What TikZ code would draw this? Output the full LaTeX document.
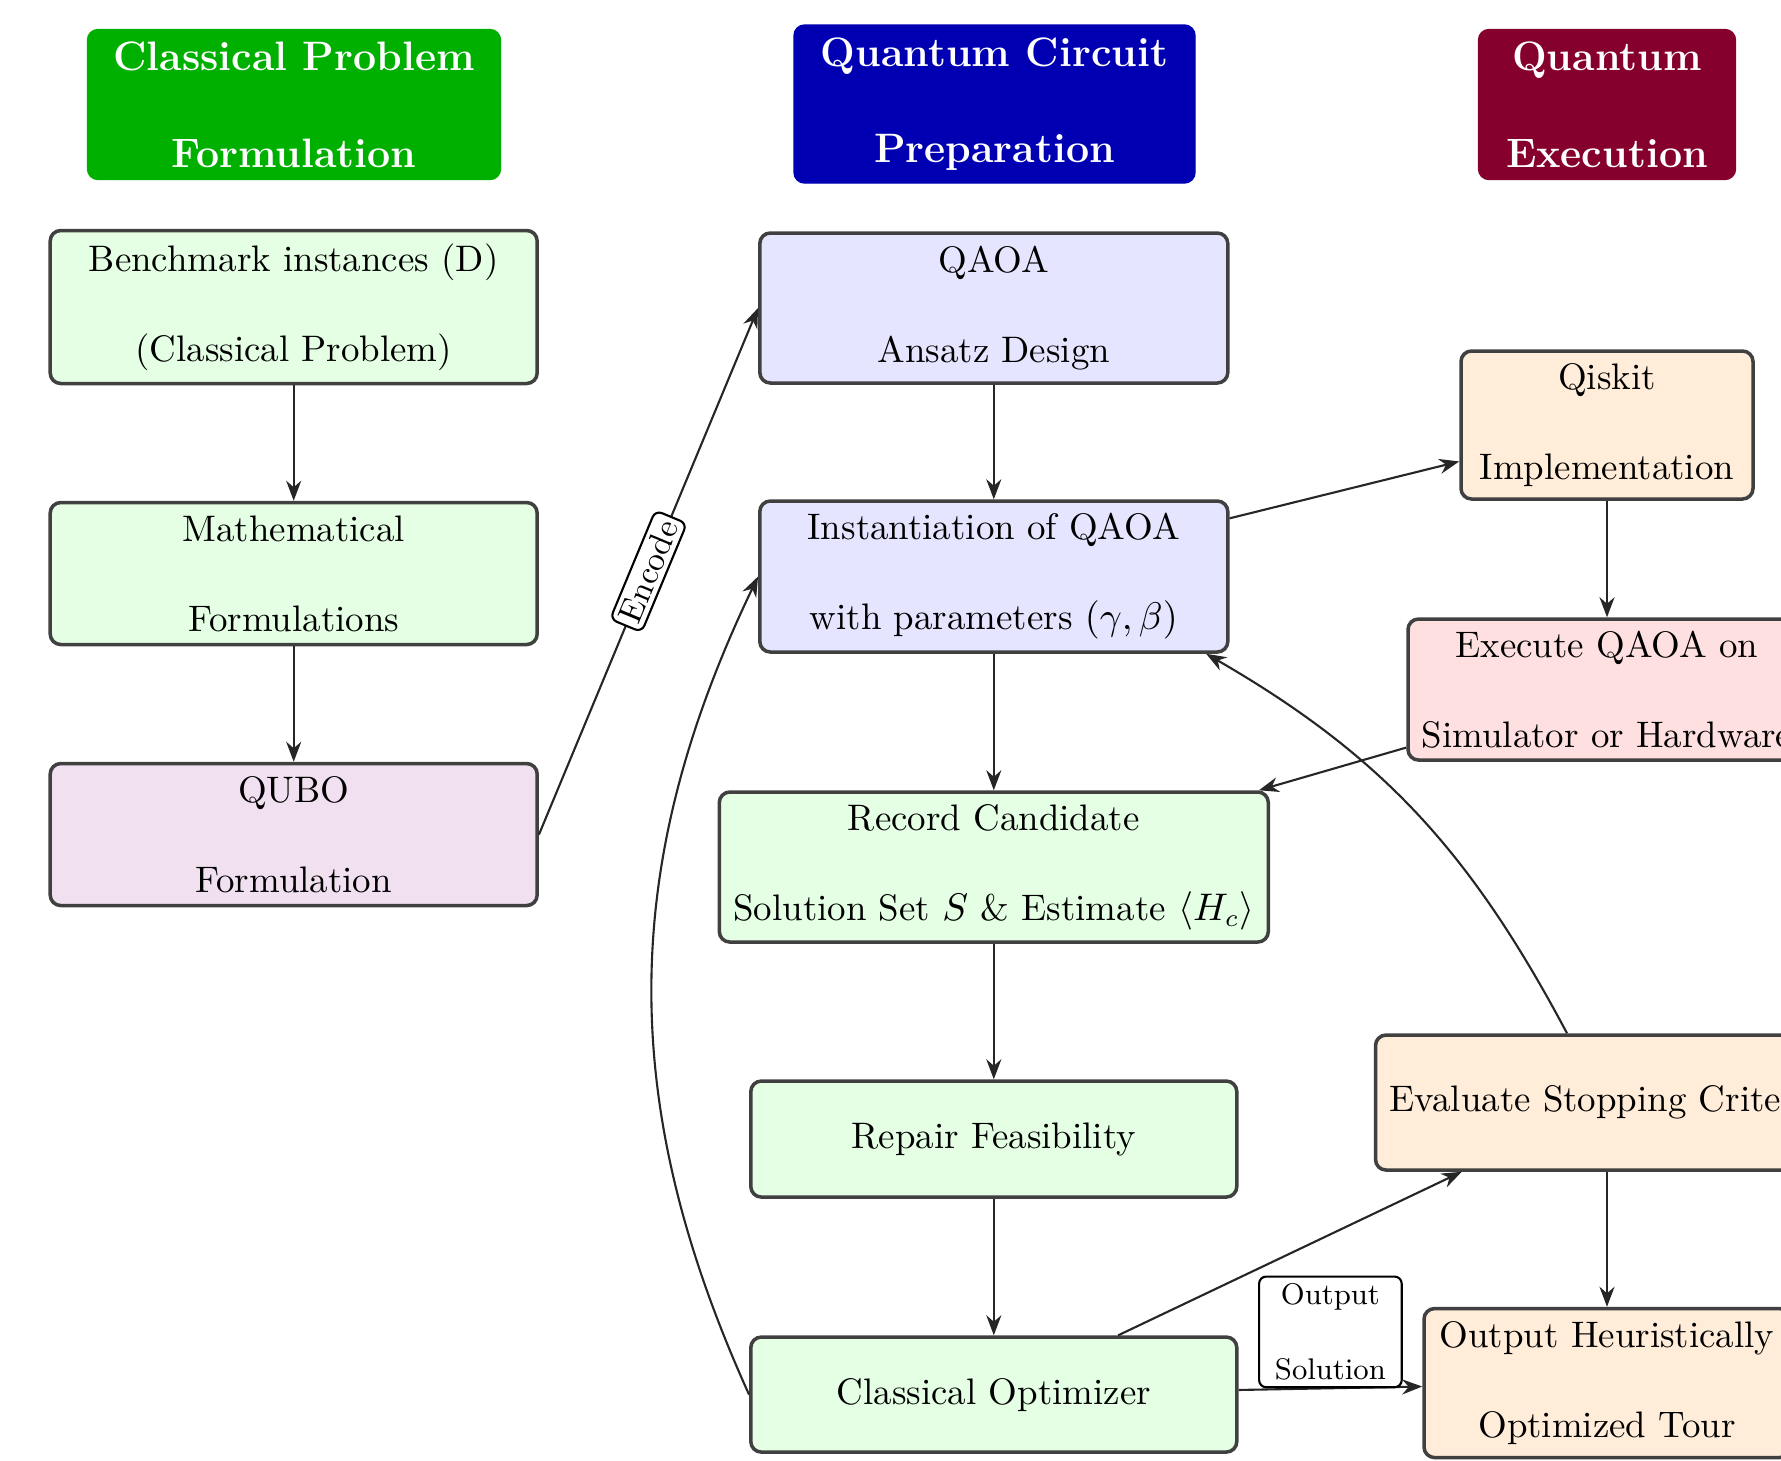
\documentclass[tikz,border=0pt]{standalone}
\usepackage{amsmath}
\usepackage{amssymb}
\usepackage{xcolor}
\usepackage{tikz}
\usetikzlibrary{arrows.meta,positioning}
\definecolor{headgreen}{RGB}{0,176,0}
\definecolor{headblue}{RGB}{0,0,178}
\definecolor{headred}{RGB}{134,0,46}
\definecolor{qubofill}{RGB}{240,224,240}
\tikzset{
  qanode/.style={
    rectangle, rounded corners=3pt, draw=black!75, line width=1pt,
    minimum height=1.42cm, align=center, inner sep=2pt,
    font=\fontsize{10.5}{25.6}\selectfont
  },
  qagreen/.style={qanode, fill=green!10},
  qablue/.style={qanode, fill=blue!10},
  qaorange/.style={qanode, fill=orange!15},
  qared/.style={qanode, fill=red!12},
  qapurple/.style={qanode, fill=qubofill},
  qahead/.style={
    rectangle, rounded corners=3pt, minimum height=1.5cm, align=center,
    text=white, font=\fontsize{11.7}{27.5}\selectfont\bfseries
  },
  qaarrow/.style={-Stealth, semithick, draw=black!85},
  qaenc/.style={draw=black, fill=white, rounded corners=2pt, sloped, inner sep=1.5pt,
    font=\fontsize{9.5}{11}\selectfont},
  qalabel/.style={draw=black, fill=white, rounded corners=2pt, inner xsep=4.5pt, inner ysep=2pt,
    align=center, font=\fontsize{8.5}{21.3}\selectfont},
}
\begin{document}
\begin{tikzpicture}[node distance=1.155cm and 1cm]
  \useasboundingbox (0,0) rectangle (17.81,-14.60);
  % column headers
  \node (h1) [qahead, fill=headgreen, draw=headgreen, minimum width=4.13cm] at (2.94,-1.045) {Classical Problem\\Formulation};
  \node (h2) [qahead, fill=headblue, draw=headblue, minimum width=4.01cm, minimum height=1.58cm] at (9.945,-1.04) {Quantum Circuit\\Preparation};
  \node (h3) [qahead, fill=headred, draw=headred, minimum width=2.57cm] at (16.07,-1.045) {Quantum\\Execution};

  % classical problem column
  \node (bench) [qagreen, minimum width=4.87cm, minimum height=1.53cm] at (2.937,-3.07) {Benchmark instances (D)\\(Classical Problem)};
  \node (math) [qagreen, minimum width=4.87cm, below=of bench] {Mathematical\\Formulations};
  \node (qubo) [qapurple, minimum width=4.87cm, below=of math] {QUBO\\Formulation};

  % circuit preparation column
  \node (qaoa) [qablue, minimum width=4.68cm, minimum height=1.50cm] at (9.938,-3.08) {QAOA\\Ansatz Design};
  \node (inst) [qablue, minimum width=4.68cm, minimum height=1.51cm, below=1.145cm of qaoa] {Instantiation of QAOA\\with parameters $(\gamma,\beta)$};
  \node (record) [qagreen, minimum width=5.49cm, minimum height=1.50cm, below=1.365cm of inst] {Record Candidate\\Solution Set $S$ \& Estimate $\langle H_c\rangle$};
  \node (repair) [qagreen, minimum width=4.86cm, minimum height=1.16cm, below=1.355cm of record] {Repair Feasibility};
  \node (optim) [qagreen, minimum width=4.86cm, minimum height=1.15cm, below=1.365cm of repair] {Classical Optimizer};

  % execution column
  \node (qiskit) [qaorange, minimum width=2.92cm, minimum height=1.48cm] at (16.07,-4.25) {Qiskit\\Implementation};
  \node (exec) [qared, minimum width=3.98cm, minimum height=1.41cm, below=1.165cm of qiskit] {Execute QAOA on\\Simulator or Hardware};
  \node (eval) [qaorange, minimum width=4.63cm, minimum height=1.35cm, below=2.715cm of exec] {Evaluate Stopping Criteria};
  \node (output) [qaorange, minimum width=3.66cm, minimum height=1.49cm, below=1.35cm of eval] {Output Heuristically\\Optimized Tour};

  \draw[qaarrow] (bench) -- (math);
  \draw[qaarrow] (math) -- (qubo);
  \draw[qaarrow] (qubo.east) -- node[qaenc] {Encode} (qaoa.west);
  \draw[qaarrow] (qaoa) -- (inst);
  \draw[qaarrow] (inst) -- (record);
  \draw[qaarrow] (record) -- (repair);
  \draw[qaarrow] (repair) -- (optim);
  \draw[qaarrow] (inst) -- (qiskit);
  \draw[qaarrow] (qiskit) -- (exec);
  \draw[qaarrow] (exec) -- (record);
  \draw[qaarrow] (optim) -- (eval);
  \draw[qaarrow] (eval) -- (output);
  \draw[qaarrow] (optim) -- node[qalabel, above] {Output\\Solution} (output);
  % feedback loops
  \draw[qaarrow] (eval.120) to[out=118,in=-30] (inst.340);
  \draw[qaarrow] (optim.west) to[bend left=25] (inst.west);
\end{tikzpicture}
\end{document}
